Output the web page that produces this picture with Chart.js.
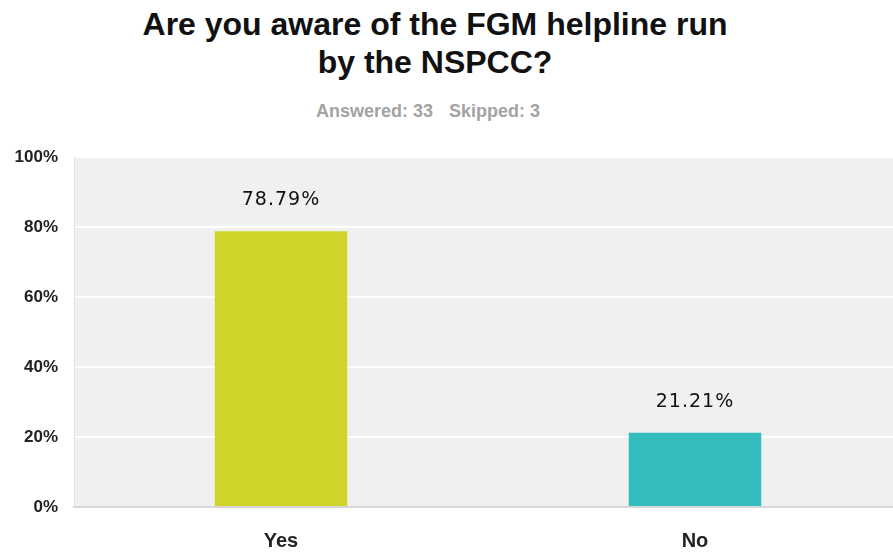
<!DOCTYPE html>
<html>
<head>
<meta charset="utf-8">
<script src="https://cdn.jsdelivr.net/npm/chart.js@4"></script>
<style>
  html, body { margin: 0; padding: 0; background: #fff; overflow: hidden; }
  body { width: 893px; height: 553px; position: relative; }
  #title {
    position: absolute; left: 0; width: 870px; top: 5px;
    text-align: center; font: bold 32px "Liberation Sans", Arial, sans-serif;
    line-height: 38px; color: #111;
  }
  #sub {
    position: absolute; left: 0; width: 856px; top: 101px;
    text-align: center; font: bold 18px "Liberation Sans", Arial, sans-serif;
    color: #a3a3a3;
  }
  #sub span + span { margin-left: 16px; }
  #wrap { position: absolute; left: 0; top: 0; width: 902px; height: 553px; }
</style>
</head>
<body>
<div id="title">Are you aware of the FGM helpline run<br>by the NSPCC?</div>
<div id="sub"><span>Answered: 33</span><span>Skipped: 3</span></div>
<div id="wrap"><canvas id="chart"></canvas></div>
<script>
// answer options and share of respondents (%)
const categories = ['Yes', 'No'];
const shares = [78.79, 21.21];
const barColors = ['#cfd42a', '#33bdbe'];
const yTicks = [0, 20, 40, 60, 80, 100];

const plotBackground = {
  id: 'plotBackground',
  beforeDraw(chart) {
    const { ctx, chartArea: a } = chart;
    ctx.save();
    ctx.fillStyle = '#f0f0f0';
    ctx.fillRect(a.left, a.top, a.right - a.left, a.bottom - a.top);
    ctx.restore();
  }
};

const valueLabels = {
  id: 'valueLabels',
  afterDatasetsDraw(chart) {
    const { ctx } = chart;
    const meta = chart.getDatasetMeta(0);
    ctx.save();
    ctx.font = '19px "DejaVu Sans", sans-serif';
    ctx.letterSpacing = '1px';
    ctx.fillStyle = '#111';
    ctx.textAlign = 'center';
    ctx.textBaseline = 'middle';
    meta.data.forEach((bar, i) => {
      ctx.fillText(shares[i].toFixed(2) + '%', bar.x, bar.y - 31);
    });
    ctx.restore();
  }
};

new Chart(document.getElementById('chart'), {
  type: 'bar',
  data: {
    labels: categories,
    datasets: [{
      data: shares,
      backgroundColor: barColors,
      borderWidth: 0,
      barPercentage: 0.32,
      categoryPercentage: 1
    }]
  },
  options: {
    responsive: true,
    maintainAspectRatio: false,
    animation: false,
    layout: { padding: { top: 157, right: 0, left: 0, bottom: 0 } },
    plugins: {
      legend: { display: false },
      tooltip: { enabled: false }
    },
    scales: {
      x: {
        grid: { display: false },
        border: { color: '#d6d6d6', width: 2 },
        ticks: {
          padding: 14,
          color: '#222',
          font: { family: '"Liberation Sans", Arial, sans-serif', size: 20, weight: 'bold' }
        },
        afterFit(scale) { scale.height = 46; }
      },
      y: {
        min: 0,
        max: 100,
        afterBuildTicks(scale) { scale.ticks = yTicks.map(v => ({ value: v })); },
        grid: { color: '#ffffff', lineWidth: 2, drawTicks: false },
        border: { color: '#e2e2e2', width: 1 },
        ticks: {
          padding: 16,
          color: '#222',
          font: { family: '"Liberation Sans", Arial, sans-serif', size: 17, weight: 'bold' },
          callback: v => v + '%'
        },
        afterFit(scale) { scale.width = 74; }
      }
    }
  },
  plugins: [plotBackground, valueLabels]
});
</script>
</body>
</html>
